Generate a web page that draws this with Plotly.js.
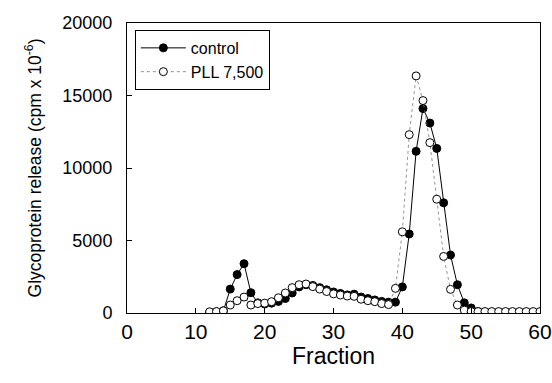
<!DOCTYPE html>
<html>
<head>
<meta charset="utf-8">
<script src="https://cdn.plot.ly/plotly-3.0.1.min.js"></script>
<style>html,body{margin:0;padding:0;background:#fff;}#chart{width:552px;height:383px;}</style>
</head>
<body>
<div id="chart"></div>
<script>
const fractions = [12,13,14,15,16,17,18,19,20,21,22,23,24,25,26,27,28,29,30,31,32,33,34,35,36,37,38,39,40,41,42,43,44,45,46,47,48,49,50,51,52,53,54,55,56,57,58,59,60];
const control = [50,80,150,1650,2650,3400,1400,700,620,680,800,1000,1380,1800,1950,1900,1750,1600,1450,1350,1250,1300,1100,1000,900,800,750,750,1800,5450,11150,14100,13100,11350,7600,4000,1950,700,350,100,60,50,50,50,50,50,50,50,50];
const pll = [80,100,150,550,850,1100,550,650,680,780,1050,1380,1750,1950,2000,1820,1650,1480,1320,1240,1170,1150,950,850,780,650,580,1700,5600,12300,16350,14650,11750,7850,3900,1630,550,200,100,100,100,100,100,100,100,100,100,100,100];
const seriesNames = ["control", "PLL 7,500"];
const xTicks = [0,10,20,30,40,50,60];
const yTicks = [0,5000,10000,15000,20000];
const yTickText = ["0","5000","10000","15000","20000"];

const traces = [
  {x: fractions, y: control, name: seriesNames[0], type: 'scatter', mode: 'lines+markers',
   line: {color: '#000', width: 1},
   marker: {symbol: 'circle', size: 8, color: '#000', line: {color: '#000', width: 1}}},
  {x: fractions, y: pll, name: seriesNames[1], type: 'scatter', mode: 'lines+markers',
   line: {color: '#777', width: 0.8, dash: 'dot'},
   marker: {symbol: 'circle', size: 8, color: '#fff', line: {color: '#000', width: 1}}}
];

const layout = {
  width: 552, height: 383,
  margin: {l: 127, r: 12, t: 23, b: 70},
  paper_bgcolor: '#fff', plot_bgcolor: '#fff',
  font: {family: 'Liberation Sans, Arial, sans-serif', color: '#000', size: 18},
  showlegend: true,
  legend: {x: 0.019, y: 0.976, xanchor: 'left', yanchor: 'top', bgcolor: '#fff',
           bordercolor: '#000', borderwidth: 1, font: {size: 16}, tracegroupgap: 0, itemwidth: 45},
  xaxis: {range: [0, 60], tickvals: xTicks, ticks: 'inside', ticklen: 5, tickcolor: '#000',
          showline: true, linecolor: '#000', linewidth: 1, mirror: true, showgrid: false, zeroline: false,
          title: {text: 'Fraction', font: {size: 23}, standoff: 4}, tickfont: {size: 21}},
  yaxis: {range: [0, 20000], tickvals: yTicks, ticktext: yTickText, ticks: 'inside', ticklen: 5, tickcolor: '#000',
          ticklabelstandoff: 10,
          showline: true, linecolor: '#000', linewidth: 1, mirror: true, showgrid: false, zeroline: false,
          title: {text: 'Glycoprotein release (cpm x 10<sup>-6</sup>)', font: {size: 17.5}, standoff: 16},
          tickfont: {size: 18}}
};

Plotly.newPlot('chart', traces, layout, {displayModeBar: false, staticPlot: true});
</script>
</body>
</html>
